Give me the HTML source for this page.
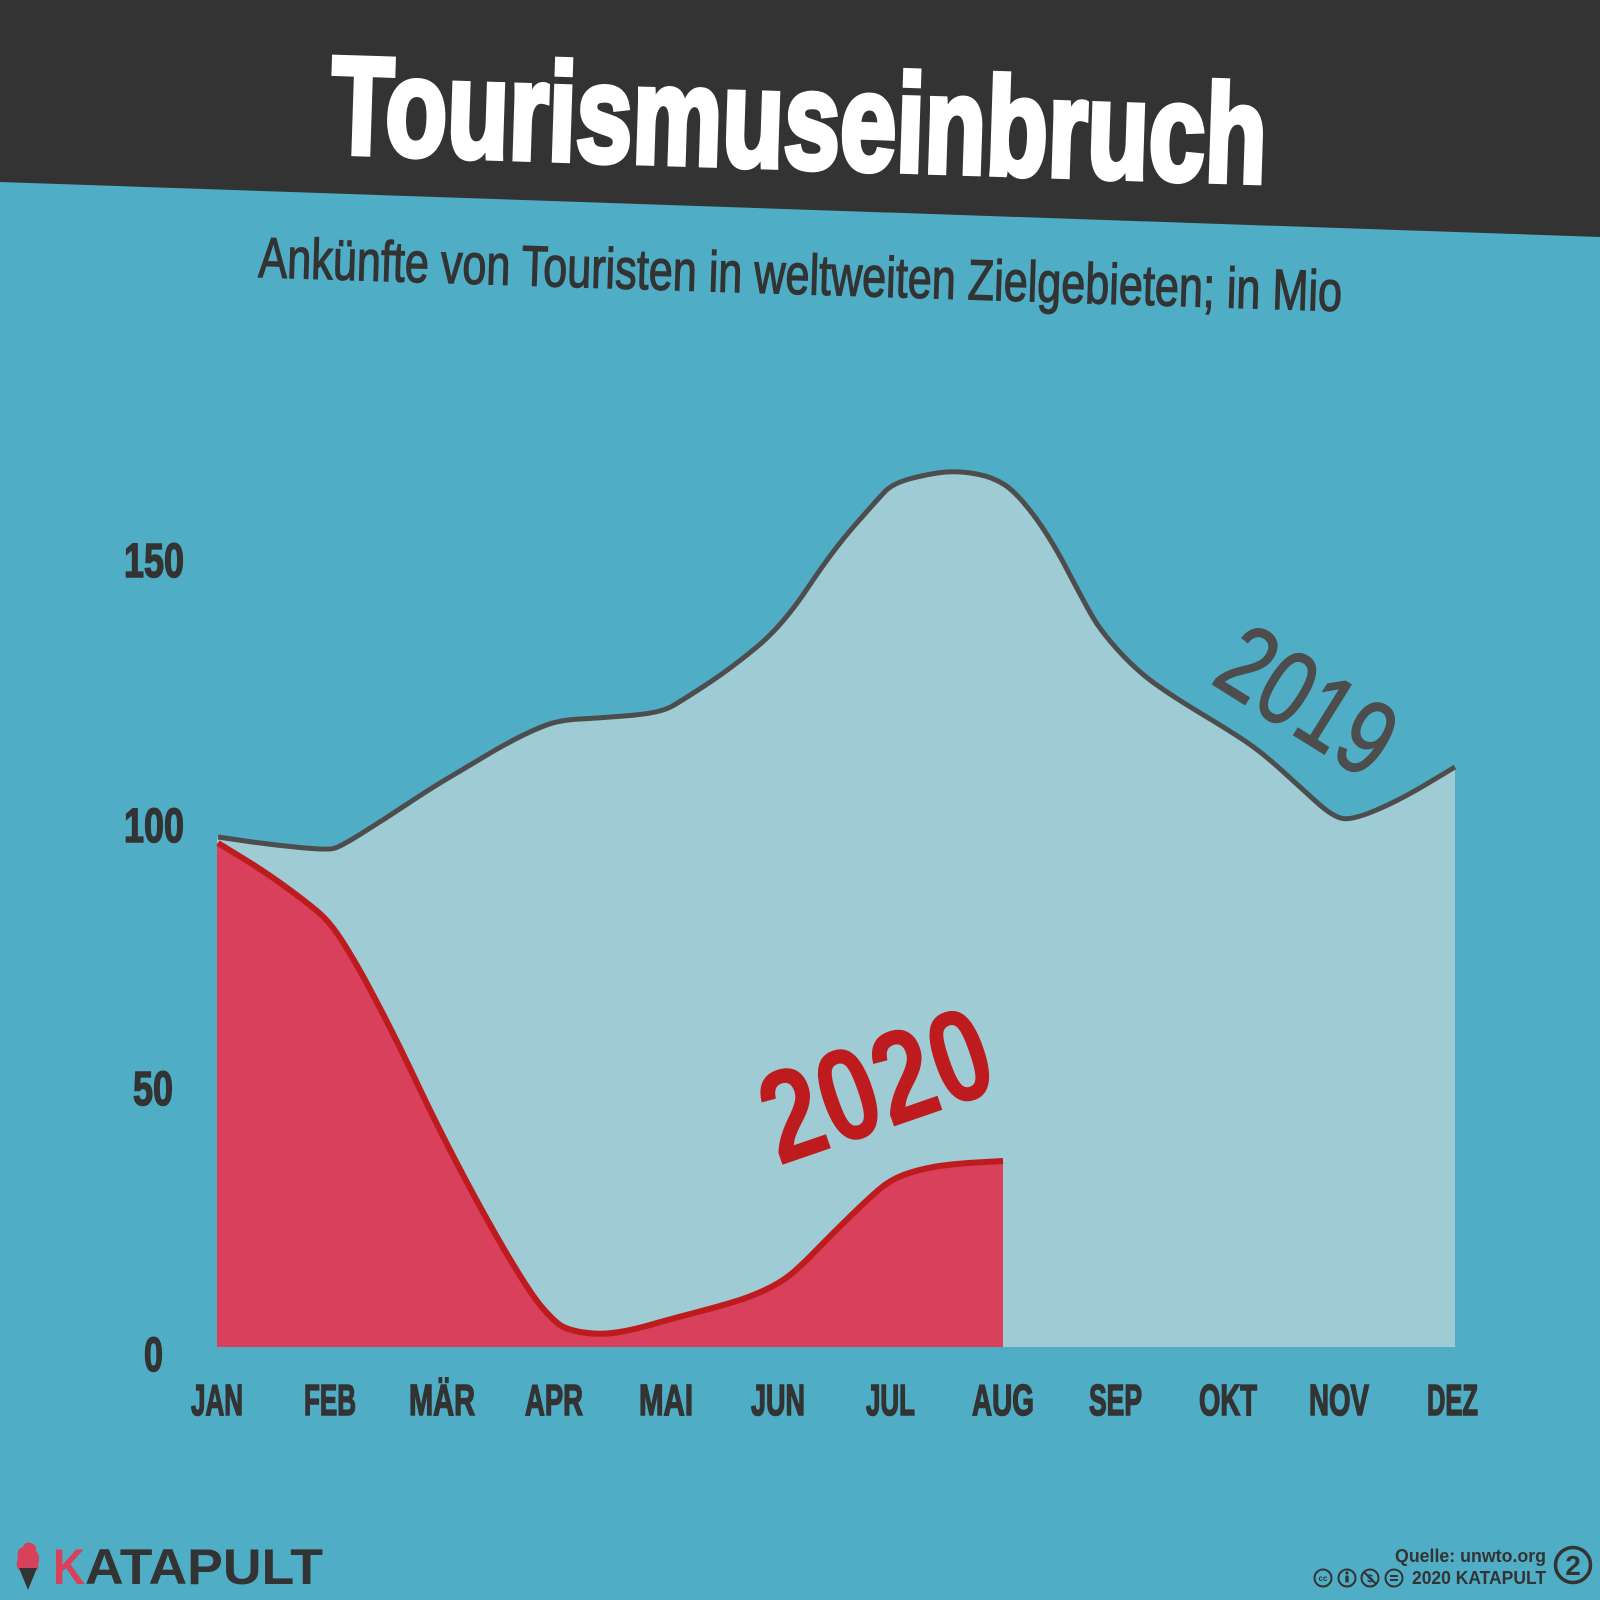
<!DOCTYPE html>
<html>
<head>
<meta charset="utf-8">
<style>
html,body{margin:0;padding:0;background:#4FAEC5;}
svg{display:block;}
text{font-family:"Liberation Sans",Arial,sans-serif;}
</style>
</head>
<body>
<svg width="1600" height="1600" viewBox="0 0 1600 1600" xmlns="http://www.w3.org/2000/svg">
  <rect x="0" y="0" width="1600" height="1600" fill="#4FAEC5"/>
  <!-- dark header band -->
  <polygon points="0,0 1600,0 1600,237 0,182" fill="#333333"/>

  <!-- Title -->
  <text x="330" y="152.5" transform="rotate(1.84 330 152.5)" font-size="138" font-weight="bold" fill="#ffffff" stroke="#ffffff" stroke-width="6" stroke-linejoin="miter" textLength="936" lengthAdjust="spacingAndGlyphs">Tourismuseinbruch</text>

  <!-- Subtitle -->
  <text x="258" y="277" transform="rotate(1.8 258 277)" font-size="57" fill="#333333" stroke="#333333" stroke-width="1.3" textLength="1084" lengthAdjust="spacingAndGlyphs">Ankünfte von Touristen in weltweiten Zielgebieten; in Mio</text>

  <!-- 2019 area -->
  <path d="M218,837 L245.5,841 Q273,845 300,847.5 Q327,850 333.5,848.5 Q340,847 361.5,833.5 Q383,820 408,803.5 Q433,787 450,777 Q467,767 483.5,757 Q500,747 516.5,738.5 Q533,730 546.5,725 Q560,720 580,719 Q600,718 630,715.5 Q660,713 671.5,706.5 Q683,700 708,683.5 Q733,667 758,646 Q783,625 808,587.5 Q833,550 855,525 Q877,500 885,491.5 Q893,483 913,478 Q933,473 946.5,472 Q960,471 976.5,474 Q993,477 1005,485 Q1017,493 1033.5,515 Q1050,537 1066.5,568.5 Q1083,600 1091.5,615 Q1100,630 1116.5,648.5 Q1133,667 1150,680 Q1167,693 1203.5,715 Q1240,737 1253.5,747 Q1267,757 1283.5,772 Q1300,787 1316.5,802 Q1333,817 1343,818.5 Q1353,820 1376.5,810 Q1400,800 1427.5,783.5 L1455,767 L1455,1347 L217,1347 L217,837 Z" fill="#9ECBD4"/>
  <path d="M218,837 L245.5,841 Q273,845 300,847.5 Q327,850 333.5,848.5 Q340,847 361.5,833.5 Q383,820 408,803.5 Q433,787 450,777 Q467,767 483.5,757 Q500,747 516.5,738.5 Q533,730 546.5,725 Q560,720 580,719 Q600,718 630,715.5 Q660,713 671.5,706.5 Q683,700 708,683.5 Q733,667 758,646 Q783,625 808,587.5 Q833,550 855,525 Q877,500 885,491.5 Q893,483 913,478 Q933,473 946.5,472 Q960,471 976.5,474 Q993,477 1005,485 Q1017,493 1033.5,515 Q1050,537 1066.5,568.5 Q1083,600 1091.5,615 Q1100,630 1116.5,648.5 Q1133,667 1150,680 Q1167,693 1203.5,715 Q1240,737 1253.5,747 Q1267,757 1283.5,772 Q1300,787 1316.5,802 Q1333,817 1343,818.5 Q1353,820 1376.5,810 Q1400,800 1427.5,783.5 L1455,767" fill="none" stroke="#4D4D4D" stroke-width="5" stroke-linejoin="round"/>

  <!-- 2020 area -->
  <path d="M218,843 L242.5,858 Q267,873 292,891.5 Q317,910 325,918.5 Q333,927 340.5,938.5 Q348,950 357.5,966.5 Q367,983 383.5,1015 Q400,1047 416.5,1082 Q433,1117 450,1150 Q467,1183 483.5,1213 Q500,1243 516.5,1270 Q533,1297 543,1308.5 Q553,1320 560,1325 Q567,1330 583.5,1332.5 Q600,1335 616.5,1332.5 Q633,1330 650,1325 Q667,1320 692,1313.5 Q717,1307 733.5,1302 Q750,1297 765,1290 Q780,1283 790,1275 Q800,1267 816.5,1250 Q833,1233 850,1216.5 Q867,1200 878.5,1190 Q890,1180 903.5,1175 Q917,1170 933.5,1167 Q950,1164 976.5,1162.5 L1003,1161 L1003,1347 L217,1347 L217,843 Z" fill="#D8405B"/>
  <path d="M218,843 L242.5,858 Q267,873 292,891.5 Q317,910 325,918.5 Q333,927 340.5,938.5 Q348,950 357.5,966.5 Q367,983 383.5,1015 Q400,1047 416.5,1082 Q433,1117 450,1150 Q467,1183 483.5,1213 Q500,1243 516.5,1270 Q533,1297 543,1308.5 Q553,1320 560,1325 Q567,1330 583.5,1332.5 Q600,1335 616.5,1332.5 Q633,1330 650,1325 Q667,1320 692,1313.5 Q717,1307 733.5,1302 Q750,1297 765,1290 Q780,1283 790,1275 Q800,1267 816.5,1250 Q833,1233 850,1216.5 Q867,1200 878.5,1190 Q890,1180 903.5,1175 Q917,1170 933.5,1167 Q950,1164 976.5,1162.5 L1003,1161" fill="none" stroke="#BE1B1E" stroke-width="6" stroke-linejoin="round"/>

  <!-- Series labels -->
  <text transform="translate(1209 682) rotate(32)" x="0" y="0" font-size="106" fill="#4D4D4D" stroke="#4D4D4D" stroke-width="1.5" textLength="187" lengthAdjust="spacingAndGlyphs">2019</text>
  <text transform="translate(779 1166) rotate(-19)" x="0" y="0" font-size="131" font-weight="bold" fill="#BE1B1E" textLength="236" lengthAdjust="spacingAndGlyphs">2020</text>

  <!-- Y axis labels -->
  <g fill="#333333" stroke="#333333" stroke-width="1.5" font-weight="bold" font-size="48">
    <text x="124" y="577" textLength="60" lengthAdjust="spacingAndGlyphs">150</text>
    <text x="124" y="842" textLength="60" lengthAdjust="spacingAndGlyphs">100</text>
    <text x="133" y="1105" textLength="40" lengthAdjust="spacingAndGlyphs">50</text>
    <text x="144" y="1371" textLength="19" lengthAdjust="spacingAndGlyphs">0</text>
  </g>

  <!-- X axis labels -->
  <g fill="#333333" stroke="#333333" stroke-width="1.6" font-weight="bold" font-size="44">
    <text x="191" y="1415" textLength="52" lengthAdjust="spacingAndGlyphs">JAN</text>
    <text x="304" y="1415" textLength="52" lengthAdjust="spacingAndGlyphs">FEB</text>
    <text x="409" y="1415" textLength="66" lengthAdjust="spacingAndGlyphs">MÄR</text>
    <text x="525" y="1415" textLength="58" lengthAdjust="spacingAndGlyphs">APR</text>
    <text x="639" y="1415" textLength="54" lengthAdjust="spacingAndGlyphs">MAI</text>
    <text x="751" y="1415" textLength="54" lengthAdjust="spacingAndGlyphs">JUN</text>
    <text x="866" y="1415" textLength="49" lengthAdjust="spacingAndGlyphs">JUL</text>
    <text x="972" y="1415" textLength="62" lengthAdjust="spacingAndGlyphs">AUG</text>
    <text x="1089" y="1415" textLength="53" lengthAdjust="spacingAndGlyphs">SEP</text>
    <text x="1199" y="1415" textLength="58" lengthAdjust="spacingAndGlyphs">OKT</text>
    <text x="1309" y="1415" textLength="60" lengthAdjust="spacingAndGlyphs">NOV</text>
    <text x="1427" y="1415" textLength="51" lengthAdjust="spacingAndGlyphs">DEZ</text>
  </g>

  <!-- KATAPULT logo -->
  <g>
    <path d="M18,1558 Q16,1549 23,1547 Q25,1541 31,1543 Q37,1545 36,1551 Q41,1556 38,1564 Q39,1570 36,1570 L19,1570 Q15,1566 18,1558 Z" fill="#D8405B"/>
    <polygon points="19,1568 37,1568 28,1590" fill="#333333"/>
    <text x="53" y="1584" font-size="50" font-weight="bold" fill="#D8405B" textLength="32" lengthAdjust="spacingAndGlyphs">K</text>
    <text x="85" y="1584" font-size="50" font-weight="bold" fill="#333333" textLength="238" lengthAdjust="spacingAndGlyphs">ATAPULT</text>
  </g>

  <!-- Footer right -->
  <g fill="#333333" font-weight="bold">
    <text x="1395" y="1562" font-size="18" textLength="151" lengthAdjust="spacingAndGlyphs">Quelle: unwto.org</text>
    <text x="1412" y="1584" font-size="18" textLength="134" lengthAdjust="spacingAndGlyphs">2020 KATAPULT</text>
  </g>
  <g fill="none" stroke="#333333" stroke-width="2">
    <circle cx="1323" cy="1578" r="8.5"/>
    <circle cx="1347" cy="1578" r="8.5"/>
    <circle cx="1370" cy="1578" r="8.5"/>
    <circle cx="1394" cy="1578" r="8.5"/>
    <line x1="1364" y1="1572" x2="1376" y2="1584"/>
    <line x1="1390" y1="1576" x2="1398" y2="1576"/>
    <line x1="1390" y1="1580" x2="1398" y2="1580"/>
  </g>
  <g fill="#333333">
    <text x="1323" y="1581" font-size="8" font-weight="bold" text-anchor="middle">cc</text>
    <circle cx="1347" cy="1573" r="1.6"/>
    <rect x="1345.3" y="1575.5" width="3.4" height="7" rx="1"/>
    <text x="1370" y="1582" font-size="11" font-weight="bold" text-anchor="middle">$</text>
  </g>
  <circle cx="1573" cy="1565" r="17.5" fill="none" stroke="#333333" stroke-width="3.5"/>
  <text x="1573" y="1575" font-size="28" font-weight="bold" fill="#333333" text-anchor="middle">2</text>
</svg>
</body>
</html>
